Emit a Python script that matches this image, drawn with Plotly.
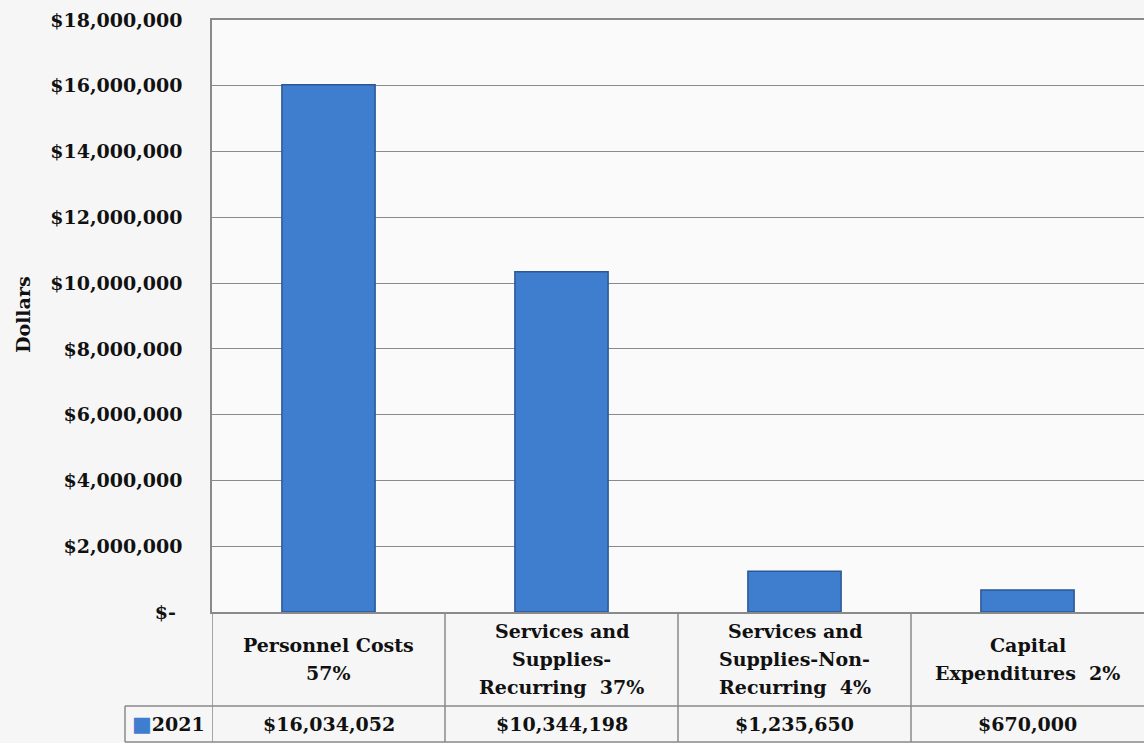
import plotly.graph_objects as go

# ---- data ----
categories = ["Personnel Costs 57%", "Services and Supplies-Recurring 37%",
              "Services and Supplies-Non-Recurring 4%", "Capital Expenditures 2%"]
category_lines = [["Personnel Costs", "57%"],
                  ["Services and", "Supplies-", "Recurring  37%"],
                  ["Services and", "Supplies-Non-", "Recurring  4%"],
                  ["Capital", "Expenditures  2%"]]
values_2021 = [16034052, 10344198, 1235650, 670000]
value_labels = ["$16,034,052", "$10,344,198", "$1,235,650", "$670,000"]
series_name = "2021"
tick_vals = [0, 2000000, 4000000, 6000000, 8000000, 10000000, 12000000,
             14000000, 16000000, 18000000]
tick_text = ["$-" + "\u00a0", "$2,000,000", "$4,000,000", "$6,000,000",
             "$8,000,000", "$10,000,000", "$12,000,000", "$14,000,000",
             "$16,000,000", "$18,000,000"]

W, H = 1144, 743
FONT = "DejaVu Serif"
FS = 19
BLUE = "#3f7dcf"
GRID = "#8a8a8a"


def px(x):
    return x / W


def py(y):
    return 1 - y / H


fig = go.Figure()
fig.add_trace(go.Bar(
    x=list(range(len(categories))), y=values_2021, name=series_name,
    width=0.40,
    marker=dict(color=BLUE, line=dict(color="#2a5896", width=1.5)),
    hoverinfo="y",
))

PLOT_TOP, PLOT_BOT, PLOT_LEFT = 20, 612, 212
ROW1_BOT, ROW2_BOT, LEG_LEFT = 706, 742, 125

shapes = []
for b in [-0.5, 0.5, 1.5, 2.5]:
    shapes.append(dict(type="line", xref="x", yref="paper", x0=b, x1=b,
                       y0=py(PLOT_BOT), y1=py(ROW2_BOT),
                       line=dict(color=GRID, width=1.5)))
shapes.append(dict(type="line", xref="paper", yref="paper", x0=px(LEG_LEFT), x1=px(LEG_LEFT),
                   y0=py(ROW1_BOT), y1=py(ROW2_BOT), line=dict(color=GRID, width=1.5)))
for yy in [ROW1_BOT, ROW2_BOT]:
    shapes.append(dict(type="line", xref="paper", yref="paper", x0=px(LEG_LEFT), x1=1,
                       y0=py(yy), y1=py(yy), line=dict(color=GRID, width=1.5)))

annotations = []
lf = dict(family=FONT, size=FS, color="#111111")
for i, lines in enumerate(category_lines):
    n = len(lines)
    for j, t in enumerate(lines):
        yc = 659 + (j - (n - 1) / 2) * 28
        annotations.append(dict(x=i, y=py(yc), xref="x", yref="paper", text="<b>%s</b>" % t,
                                showarrow=False, xanchor="center", yanchor="middle", font=lf))
for i, t in enumerate(value_labels):
    annotations.append(dict(x=i, y=py(724), xref="x", yref="paper", text="<b>%s</b>" % t,
                            showarrow=False, xanchor="center", yanchor="middle", font=lf))
annotations.append(dict(x=px(130), y=py(724), xref="paper", yref="paper",
                        text='<span style="color:%s;font-size:21px">■</span><b>%s</b>' % (BLUE, series_name),
                        showarrow=False, xanchor="left", yanchor="middle", font=lf))
annotations.append(dict(x=px(23), y=py(315), xref="paper", yref="paper", text="<b>Dollars</b>",
                        textangle=-90, showarrow=False, xanchor="center", yanchor="middle",
                        font=dict(family=FONT, size=FS, color="#111111")))

fig.update_layout(
    width=W, height=H,
    margin=dict(l=0, r=0, t=0, b=0, autoexpand=False),
    paper_bgcolor="#f6f6f6",
    plot_bgcolor="#fafafa",
    showlegend=False,
    xaxis=dict(domain=[px(PLOT_LEFT), 1], range=[-0.5, 3.5], showticklabels=False,
               showgrid=False, zeroline=False, showline=True, mirror=True,
               linecolor=GRID, linewidth=1.5, ticks="", automargin=False),
    yaxis=dict(domain=[py(PLOT_BOT), py(PLOT_TOP)], range=[0, 18000000],
               tickvals=tick_vals, ticktext=["<b>%s</b>" % t for t in tick_text],
               showgrid=True, gridcolor=GRID,
               gridwidth=1.3, zeroline=False, showline=True, linecolor=GRID, linewidth=1.5,
               ticks="", ticklabelstandoff=24, automargin=False,
               tickfont=dict(family=FONT, size=FS, color="#111111")),
    shapes=shapes,
    annotations=annotations,
)

fig.write_html("out.html")
